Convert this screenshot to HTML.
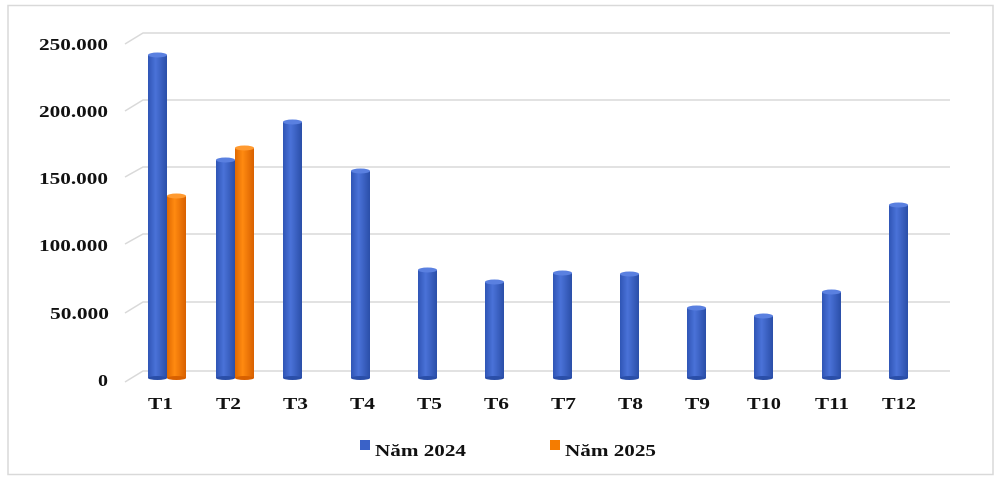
<!DOCTYPE html>
<html><head><meta charset="utf-8"><style>
body{margin:0;background:#fff;}
svg text{font-family:"Liberation Serif",serif;font-weight:bold;fill:#111;}
</style></head><body>
<svg width="1003" height="481" xmlns="http://www.w3.org/2000/svg">
<defs>
<linearGradient id="b" x1="0" x2="1"><stop offset="0" stop-color="#2f55b5"/><stop offset="0.4" stop-color="#4a72d8"/><stop offset="1" stop-color="#2a4ea8"/></linearGradient>
<linearGradient id="o" x1="0" x2="1"><stop offset="0" stop-color="#e06800"/><stop offset="0.4" stop-color="#ff8a10"/><stop offset="1" stop-color="#d86000"/></linearGradient>
</defs>
<rect x="8" y="5.5" width="985" height="469" fill="none" stroke="#d9d9d9" stroke-width="1.5"/>
<g stroke="#d9d9d9" stroke-width="1.5" fill="none">
<path d="M125 44L143 33H950"/><path d="M125 111L143 100H950"/><path d="M125 177L143 167H950"/><path d="M125 244L143 234H950"/><path d="M125 313L143 302H950"/><path d="M125 382L143 371H950"/>
</g>
<g font-size="17">
<text x="39" y="50" textLength="69" lengthAdjust="spacingAndGlyphs">250.000</text>
<text x="39" y="117" textLength="69" lengthAdjust="spacingAndGlyphs">200.000</text>
<text x="39" y="184" textLength="69" lengthAdjust="spacingAndGlyphs">150.000</text>
<text x="39" y="251" textLength="69" lengthAdjust="spacingAndGlyphs">100.000</text>
<text x="50" y="319" textLength="59" lengthAdjust="spacingAndGlyphs">50.000</text>
<text x="98" y="386" textLength="10" lengthAdjust="spacingAndGlyphs">0</text>
</g>
<g>
<rect x="148" y="55" width="19" height="323" fill="url(#b)"/><ellipse cx="157.5" cy="55" rx="9.5" ry="2.5" fill="#5a80e0"/><ellipse cx="157.5" cy="378" rx="9.5" ry="2" fill="#2a4ea8"/>
<rect x="167" y="196" width="19" height="182" fill="url(#o)"/><ellipse cx="176.5" cy="196" rx="9.5" ry="2.5" fill="#ff9a30"/><ellipse cx="176.5" cy="378" rx="9.5" ry="2" fill="#d86000"/>
<rect x="216" y="160" width="19" height="218" fill="url(#b)"/><ellipse cx="225.5" cy="160" rx="9.5" ry="2.5" fill="#5a80e0"/><ellipse cx="225.5" cy="378" rx="9.5" ry="2" fill="#2a4ea8"/>
<rect x="235" y="148" width="19" height="230" fill="url(#o)"/><ellipse cx="244.5" cy="148" rx="9.5" ry="2.5" fill="#ff9a30"/><ellipse cx="244.5" cy="378" rx="9.5" ry="2" fill="#d86000"/>
<rect x="283" y="122" width="19" height="256" fill="url(#b)"/><ellipse cx="292.5" cy="122" rx="9.5" ry="2.5" fill="#5a80e0"/><ellipse cx="292.5" cy="378" rx="9.5" ry="2" fill="#2a4ea8"/>
<rect x="351" y="171" width="19" height="207" fill="url(#b)"/><ellipse cx="360.5" cy="171" rx="9.5" ry="2.5" fill="#5a80e0"/><ellipse cx="360.5" cy="378" rx="9.5" ry="2" fill="#2a4ea8"/>
<rect x="418" y="270" width="19" height="108" fill="url(#b)"/><ellipse cx="427.5" cy="270" rx="9.5" ry="2.5" fill="#5a80e0"/><ellipse cx="427.5" cy="378" rx="9.5" ry="2" fill="#2a4ea8"/>
<rect x="485" y="282" width="19" height="96" fill="url(#b)"/><ellipse cx="494.5" cy="282" rx="9.5" ry="2.5" fill="#5a80e0"/><ellipse cx="494.5" cy="378" rx="9.5" ry="2" fill="#2a4ea8"/>
<rect x="553" y="273" width="19" height="105" fill="url(#b)"/><ellipse cx="562.5" cy="273" rx="9.5" ry="2.5" fill="#5a80e0"/><ellipse cx="562.5" cy="378" rx="9.5" ry="2" fill="#2a4ea8"/>
<rect x="620" y="274" width="19" height="104" fill="url(#b)"/><ellipse cx="629.5" cy="274" rx="9.5" ry="2.5" fill="#5a80e0"/><ellipse cx="629.5" cy="378" rx="9.5" ry="2" fill="#2a4ea8"/>
<rect x="687" y="308" width="19" height="70" fill="url(#b)"/><ellipse cx="696.5" cy="308" rx="9.5" ry="2.5" fill="#5a80e0"/><ellipse cx="696.5" cy="378" rx="9.5" ry="2" fill="#2a4ea8"/>
<rect x="754" y="316" width="19" height="62" fill="url(#b)"/><ellipse cx="763.5" cy="316" rx="9.5" ry="2.5" fill="#5a80e0"/><ellipse cx="763.5" cy="378" rx="9.5" ry="2" fill="#2a4ea8"/>
<rect x="822" y="292" width="19" height="86" fill="url(#b)"/><ellipse cx="831.5" cy="292" rx="9.5" ry="2.5" fill="#5a80e0"/><ellipse cx="831.5" cy="378" rx="9.5" ry="2" fill="#2a4ea8"/>
<rect x="889" y="205" width="19" height="173" fill="url(#b)"/><ellipse cx="898.5" cy="205" rx="9.5" ry="2.5" fill="#5a80e0"/><ellipse cx="898.5" cy="378" rx="9.5" ry="2" fill="#2a4ea8"/>
</g>
<g font-size="17">
<text x="148" y="409" textLength="25" lengthAdjust="spacingAndGlyphs">T1</text>
<text x="216" y="409" textLength="25" lengthAdjust="spacingAndGlyphs">T2</text>
<text x="283" y="409" textLength="25" lengthAdjust="spacingAndGlyphs">T3</text>
<text x="350" y="409" textLength="25" lengthAdjust="spacingAndGlyphs">T4</text>
<text x="417" y="409" textLength="25" lengthAdjust="spacingAndGlyphs">T5</text>
<text x="484" y="409" textLength="25" lengthAdjust="spacingAndGlyphs">T6</text>
<text x="551" y="409" textLength="25" lengthAdjust="spacingAndGlyphs">T7</text>
<text x="618" y="409" textLength="25" lengthAdjust="spacingAndGlyphs">T8</text>
<text x="685" y="409" textLength="25" lengthAdjust="spacingAndGlyphs">T9</text>
<text x="747" y="409" textLength="34" lengthAdjust="spacingAndGlyphs">T10</text>
<text x="815" y="409" textLength="34" lengthAdjust="spacingAndGlyphs">T11</text>
<text x="882" y="409" textLength="34" lengthAdjust="spacingAndGlyphs">T12</text>
</g>
<rect x="360" y="440" width="10" height="10" fill="#3a62c8"/>
<text x="375" y="456" font-size="17" textLength="91" lengthAdjust="spacingAndGlyphs">Năm 2024</text>
<rect x="550" y="440" width="10" height="10" fill="#f57c00"/>
<text x="565" y="456" font-size="17" textLength="91" lengthAdjust="spacingAndGlyphs">Năm 2025</text>
</svg>
</body></html>
